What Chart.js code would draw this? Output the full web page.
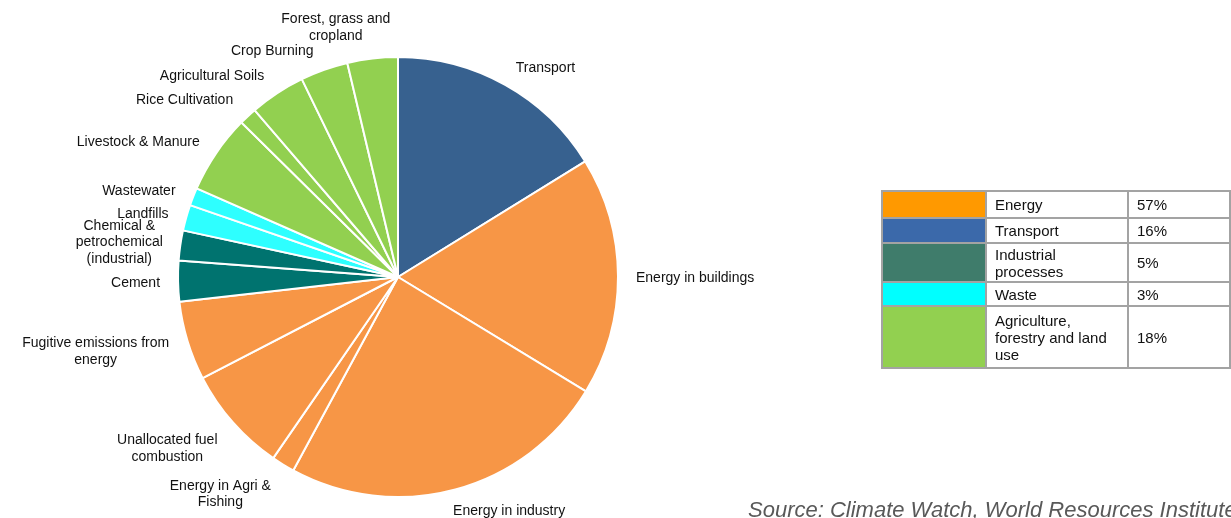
<!DOCTYPE html>
<html>
<head>
<meta charset="utf-8">
<script src="https://cdn.jsdelivr.net/npm/chart.js@4/dist/chart.umd.min.js"></script>
<style>
  html, body { margin: 0; padding: 0; background: #ffffff; }
  body { width: 1231px; height: 518px; position: relative; overflow: hidden; font-family: "Liberation Sans", Arial, sans-serif; }
  #wrap { position: absolute; left: 0; top: 0; width: 1231px; height: 518px; }
  #legendTable { position: absolute; left: 881px; top: 190px; border-collapse: collapse; table-layout: fixed; width: 348px; font-family: "Liberation Sans", Arial, sans-serif; font-size: 15px; color: #111; }
  #legendTable td { border: 2px solid #a3a3a3; padding: 0 8px; line-height: 17px; vertical-align: middle; }
  #legendTable td.sw { padding: 0; }
  #source { position: absolute; left: 748px; top: 497px; font-family: "Liberation Sans", Arial, sans-serif; font-style: italic; font-size: 22px; color: #595959; white-space: nowrap; }
</style>
</head>
<body>
<div id="wrap"><canvas id="c"></canvas></div>
<table id="legendTable"><colgroup><col style="width:104px"><col style="width:142px"><col style="width:102px"></colgroup><tbody id="legendBody"></tbody></table>
<div id="source">Source: Climate Watch, World Resources Institute</div>
<script>
// ---- Data ----
const categories = [
  "Transport",
  "Energy in buildings",
  "Energy in industry",
  "Energy in Agri &\nFishing",
  "Unallocated fuel\ncombustion",
  "Fugitive emissions from\nenergy",
  "Cement",
  "Chemical &\npetrochemical\n(industrial)",
  "Landfills",
  "Wastewater",
  "Livestock & Manure",
  "Rice Cultivation",
  "Agricultural Soils",
  "Crop Burning",
  "Forest, grass and\ncropland"
];
const shares = [16.2, 17.5, 24.2, 1.7, 7.8, 5.8, 3.0, 2.2, 1.9, 1.3, 5.8, 1.3, 4.1, 3.5, 3.7];
const sectorOf = ["Transport", "Energy", "Energy", "Energy", "Energy", "Energy",
  "Industrial processes", "Industrial processes", "Waste", "Waste",
  "Agriculture, forestry and land use", "Agriculture, forestry and land use",
  "Agriculture, forestry and land use", "Agriculture, forestry and land use",
  "Agriculture, forestry and land use"];
const groupNames = ["Energy", "Transport", "Industrial\nprocesses", "Waste", "Agriculture,\nforestry and land\nuse"];
const groupKeys = ["Energy", "Transport", "Industrial processes", "Waste", "Agriculture, forestry and land use"];
const groupShares = ["57%", "16%", "5%", "3%", "18%"];

// ---- Styles ----
const sliceColor = {
  "Energy": "#f79646",
  "Transport": "#37618f",
  "Industrial processes": "#00736f",
  "Waste": "#2effff",
  "Agriculture, forestry and land use": "#92d050"
};
const tableColor = {
  "Energy": "#ff9900",
  "Transport": "#3b69aa",
  "Industrial processes": "#3f7c6b",
  "Waste": "#00ffff",
  "Agriculture, forestry and land use": "#92d050"
};
const rowHeights = [27, 25, 39, 24, 62];
// label position nudges (layout only)
const labelNudges = [[20,-1],[6,0],[36,1],[-30,4],[-19,6],[-10,1],[-6,0],[-6,1],[-7,0],[-9,0],[-17,-1],[-22,-3],[-30,-2],[-34,-1],[-29,-4]];

// ---- Legend table ----
const tbody = document.getElementById('legendBody');
groupKeys.forEach((k, i) => {
  const tr = document.createElement('tr');
  tr.style.height = rowHeights[i] + 'px';
  const sw = document.createElement('td'); sw.className = 'sw'; sw.style.background = tableColor[k];
  const nm = document.createElement('td'); nm.className = 'nm';
  groupNames[i].split('\n').forEach((l, j) => { if (j) nm.appendChild(document.createElement('br')); nm.appendChild(document.createTextNode(l)); });
  const pc = document.createElement('td'); pc.className = 'pc'; pc.textContent = groupShares[i];
  tr.appendChild(sw); tr.appendChild(nm); tr.appendChild(pc);
  tbody.appendChild(tr);
});

// ---- Slice label plugin ----
const sliceLabelPlugin = {
  id: 'sliceLabels',
  afterDatasetsDraw(chart, args, opts) {
    const ctx = chart.ctx;
    const meta = chart.getDatasetMeta(0);
    ctx.save();
    ctx.font = opts.font;
    ctx.fillStyle = opts.color;
    ctx.textAlign = 'center';
    ctx.textBaseline = 'middle';
    meta.data.forEach((arc, i) => {
      const p = arc.getProps(['x', 'y', 'startAngle', 'endAngle', 'outerRadius'], true);
      const mid = (p.startAngle + p.endAngle) / 2;
      const cs = Math.cos(mid), sn = Math.sin(mid);
      const lines = String(chart.data.labels[i]).split('\n');
      const w = Math.max(...lines.map(l => ctx.measureText(l).width));
      const h = lines.length * opts.lineHeight;
      const R = p.outerRadius + opts.gap;
      const ax = p.x + R * cs, ay = p.y + R * sn;
      const n = opts.nudges[i] || [0, 0];
      const cx = ax + cs * w / 2 + n[0];
      const cy = ay + sn * h / 2 + n[1] + opts.dy;
      lines.forEach((l, k) => ctx.fillText(l, cx, cy - h / 2 + opts.lineHeight * (k + 0.5)));
    });
    ctx.restore();
  }
};

new Chart(document.getElementById('c'), {
  type: 'pie',
  data: {
    labels: categories,
    datasets: [{
      data: shares,
      backgroundColor: sectorOf.map(s => sliceColor[s]),
      borderColor: '#ffffff',
      borderWidth: 2
    }]
  },
  options: {
    responsive: true,
    maintainAspectRatio: false,
    animation: false,
    layout: { padding: { left: 177, right: 612, top: 56, bottom: 20 } },
    plugins: {
      legend: { display: false },
      tooltip: { enabled: false },
      sliceLabels: {
        font: '14px "Liberation Sans", Arial, sans-serif',
        color: '#111111',
        lineHeight: 16.5,
        gap: 12,
        dy: 1.5,
        nudges: labelNudges
      }
    }
  },
  plugins: [sliceLabelPlugin]
});
</script>
</body>
</html>
